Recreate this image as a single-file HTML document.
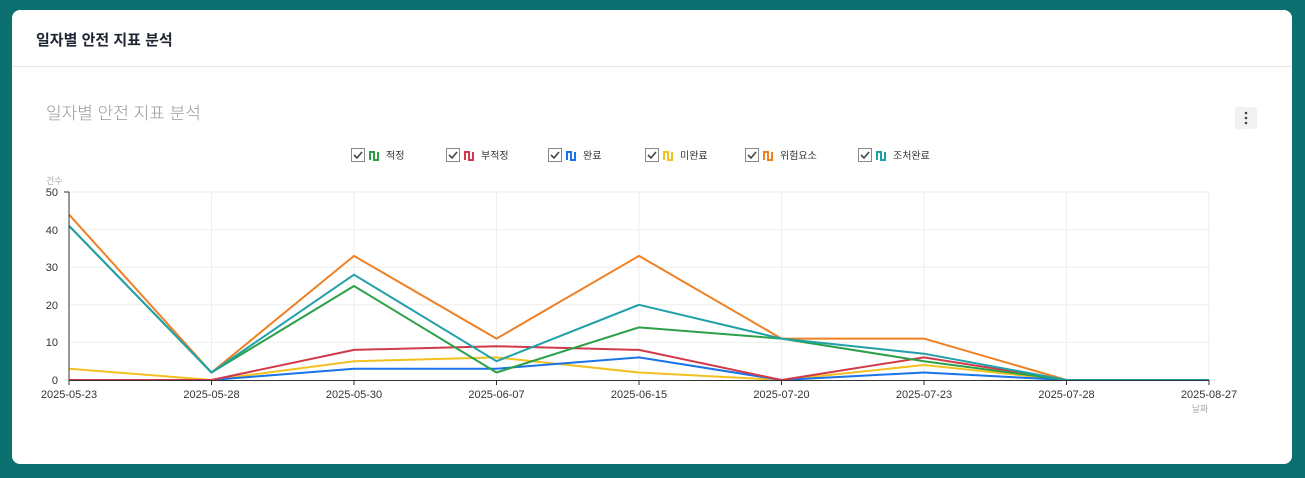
<!DOCTYPE html>
<html><head><meta charset="utf-8"><style>
body{margin:0;width:1305px;height:478px;background:#0d7070;overflow:hidden;font-family:"Liberation Sans","Noto Sans CJK KR",sans-serif;}
.card{position:absolute;left:12px;top:10px;width:1280px;height:454px;background:#fff;border-radius:8px;}
.hdr{position:absolute;left:0;top:0;width:1280px;height:56px;border-bottom:1px solid #e3e6ea;}
.hdr span{position:absolute;left:24px;top:19px;font-size:15px;font-weight:bold;color:#1f2533;}
svg{position:absolute;left:0;top:0}
</style></head><body>
<div class="card"><div class="hdr"><span>일자별 안전 지표 분석</span></div></div>
<svg width="1305" height="478" font-family="Liberation Sans, Noto Sans CJK KR, sans-serif">
<text x="46" y="119" font-size="17" font-weight="300" fill="#999">일자별 안전 지표 분석</text>
<rect x="1235" y="107" width="22" height="22" rx="3" fill="#f1f2f3"/>
<circle cx="1246" cy="113" r="1.3" fill="#444"/><circle cx="1246" cy="118" r="1.3" fill="#444"/><circle cx="1246" cy="123" r="1.3" fill="#444"/>
<g font-size="10" fill="#333">
<g transform="translate(351,148)"><rect x="0.5" y="0.5" width="13" height="13" fill="#fff" stroke="#888"/><path d="M3 7l3 3 5-6" stroke="#444" stroke-width="1.6" fill="none"/><path d="M19 12V4h4v8h4V4" stroke="#2ca048" stroke-width="2" fill="none"/><text x="35" y="11">적정</text></g>
<g transform="translate(446,148)"><rect x="0.5" y="0.5" width="13" height="13" fill="#fff" stroke="#888"/><path d="M3 7l3 3 5-6" stroke="#444" stroke-width="1.6" fill="none"/><path d="M19 12V4h4v8h4V4" stroke="#d13a4b" stroke-width="2" fill="none"/><text x="35" y="11">부적정</text></g>
<g transform="translate(548,148)"><rect x="0.5" y="0.5" width="13" height="13" fill="#fff" stroke="#888"/><path d="M3 7l3 3 5-6" stroke="#444" stroke-width="1.6" fill="none"/><path d="M19 12V4h4v8h4V4" stroke="#1a73e8" stroke-width="2" fill="none"/><text x="35" y="11">완료</text></g>
<g transform="translate(645,148)"><rect x="0.5" y="0.5" width="13" height="13" fill="#fff" stroke="#888"/><path d="M3 7l3 3 5-6" stroke="#444" stroke-width="1.6" fill="none"/><path d="M19 12V4h4v8h4V4" stroke="#f4c01f" stroke-width="2" fill="none"/><text x="35" y="11">미완료</text></g>
<g transform="translate(745,148)"><rect x="0.5" y="0.5" width="13" height="13" fill="#fff" stroke="#888"/><path d="M3 7l3 3 5-6" stroke="#444" stroke-width="1.6" fill="none"/><path d="M19 12V4h4v8h4V4" stroke="#f08024" stroke-width="2" fill="none"/><text x="35" y="11">위험요소</text></g>
<g transform="translate(858,148)"><rect x="0.5" y="0.5" width="13" height="13" fill="#fff" stroke="#888"/><path d="M3 7l3 3 5-6" stroke="#444" stroke-width="1.6" fill="none"/><path d="M19 12V4h4v8h4V4" stroke="#20a0a8" stroke-width="2" fill="none"/><text x="35" y="11">조처완료</text></g>
</g>
<text x="46" y="184" font-size="9" fill="#aaa">건수</text>
<g stroke="#eee" stroke-width="1">
<line x1="69" y1="192" x2="1209" y2="192"/><line x1="69" y1="229.6" x2="1209" y2="229.6"/><line x1="69" y1="267.2" x2="1209" y2="267.2"/><line x1="69" y1="304.8" x2="1209" y2="304.8"/><line x1="69" y1="342.4" x2="1209" y2="342.4"/>
<line x1="211.5" y1="192" x2="211.5" y2="380"/><line x1="354" y1="192" x2="354" y2="380"/><line x1="496.5" y1="192" x2="496.5" y2="380"/><line x1="639" y1="192" x2="639" y2="380"/><line x1="781.5" y1="192" x2="781.5" y2="380"/><line x1="924" y1="192" x2="924" y2="380"/><line x1="1066.5" y1="192" x2="1066.5" y2="380"/><line x1="1209" y1="192" x2="1209" y2="380"/>
</g>
<g font-size="11" fill="#333" text-anchor="end">
<text x="58" y="196">50</text><text x="58" y="234">40</text><text x="58" y="271">30</text><text x="58" y="309">20</text><text x="58" y="346">10</text><text x="58" y="384">0</text>
</g>
<g fill="none" stroke-width="2" stroke-linejoin="round">
<polyline stroke="#f4c01f" points="69,368.7 211.5,380 354,361.2 496.5,357.4 639,372.5 781.5,380 924,365 1066.5,380 1209,380"/>
<polyline stroke="#1a73e8" points="69,380 211.5,380 354,368.7 496.5,368.7 639,357.4 781.5,380 924,372.5 1066.5,380 1209,380"/>
<polyline stroke="#d13a4b" points="69,380 211.5,380 354,349.9 496.5,346.2 639,349.9 781.5,380 924,357.4 1066.5,380 1209,380"/>
<polyline stroke="#2ca048" points="69,225.8 211.5,372.5 354,286 496.5,372.5 639,327.4 781.5,338.6 924,361.2 1066.5,380 1209,380"/>
<polyline stroke="#f08024" points="69,214.6 211.5,372.5 354,255.9 496.5,338.6 639,255.9 781.5,338.6 924,338.6 1066.5,380 1209,380"/>
<polyline stroke="#20a0a8" points="69,225.8 211.5,372.5 354,274.7 496.5,361.2 639,304.8 781.5,338.6 924,353.7 1066.5,380 1209,380"/>
</g>
<g stroke="#333" stroke-width="1">
<line x1="69" y1="192" x2="69" y2="380"/><line x1="64" y1="192" x2="69" y2="192"/>
<line x1="69" y1="380.5" x2="1209" y2="380.5"/>
<line x1="69" y1="380" x2="69" y2="385"/><line x1="211.5" y1="380" x2="211.5" y2="385"/><line x1="354" y1="380" x2="354" y2="385"/><line x1="496.5" y1="380" x2="496.5" y2="385"/><line x1="639" y1="380" x2="639" y2="385"/><line x1="781.5" y1="380" x2="781.5" y2="385"/><line x1="924" y1="380" x2="924" y2="385"/><line x1="1066.5" y1="380" x2="1066.5" y2="385"/><line x1="1209" y1="380" x2="1209" y2="385"/>
</g>
<g font-size="11" fill="#333" text-anchor="middle">
<text x="69" y="398">2025-05-23</text><text x="211.5" y="398">2025-05-28</text><text x="354" y="398">2025-05-30</text><text x="496.5" y="398">2025-06-07</text><text x="639" y="398">2025-06-15</text><text x="781.5" y="398">2025-07-20</text><text x="924" y="398">2025-07-23</text><text x="1066.5" y="398">2025-07-28</text><text x="1209" y="398">2025-08-27</text>
</g>
<text x="1200" y="412" font-size="9" fill="#aaa" text-anchor="middle">날짜</text>
</svg>
</body></html>
